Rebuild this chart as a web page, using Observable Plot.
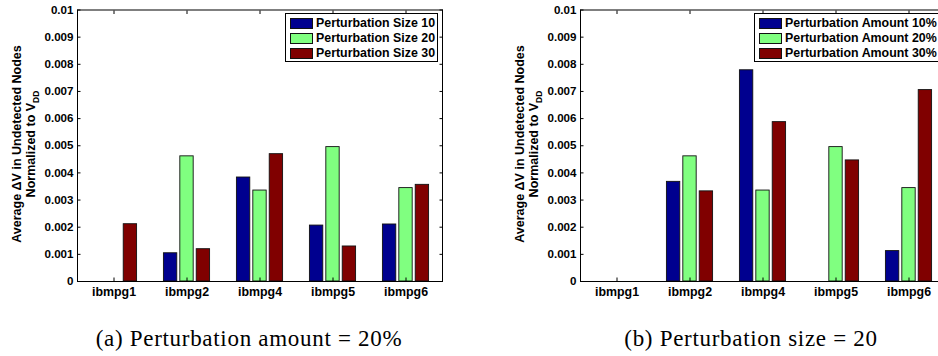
<!DOCTYPE html>
<html>
<head>
<meta charset="utf-8">
<script src="https://cdn.jsdelivr.net/npm/d3@7"></script>
<script src="https://cdn.jsdelivr.net/npm/@observablehq/plot@0.6"></script>
<style>
  html, body { margin: 0; padding: 0; background: #fff; }
  body { width: 938px; height: 356px; overflow: hidden; position: relative;
         font-family: "Liberation Sans", Arial, sans-serif; }
  .panel { position: absolute; top: 0; height: 356px; }
  .legend { position: absolute; border: 1px solid #000; background: #fff; box-sizing: border-box;
            font-weight: bold; font-size: 12.4px; color: #000; }
  .legend .row { position: absolute; left: 0; height: 15px; white-space: nowrap; }
  .legend .sw { position: absolute; width: 23px; height: 11px; box-sizing: border-box; border: 1px solid #111; }
  .legend .lbl { position: absolute; line-height: 15px; }
  .caption { position: absolute; transform: translateX(-50%); white-space: nowrap;
             font-family: "Liberation Serif", "Times New Roman", serif; font-size: 23px;
             letter-spacing: 0.7px; line-height: 23px; color: #000; }
</style>
</head>
<body>
<script>
// ---- data ----
const categories = ["ibmpg1", "ibmpg2", "ibmpg4", "ibmpg5", "ibmpg6"];

const sizeSeries = ["Perturbation Size 10", "Perturbation Size 20", "Perturbation Size 30"];
const size10 = [0, 0.00104, 0.00383, 0.00206, 0.00210];
const size20 = [0, 0.00461, 0.00335, 0.00495, 0.00344];
const size30 = [0.00211, 0.00119, 0.00469, 0.00129, 0.00356];

const amountSeries = ["Perturbation Amount 10%", "Perturbation Amount 20%", "Perturbation Amount 30%"];
const amount10 = [0, 0.00367, 0.00778, 0, 0.00112];
const amount20 = [0, 0.00461, 0.00335, 0.00495, 0.00344];
const amount30 = [0, 0.00332, 0.00587, 0.00446, 0.00705];

const seriesColors = ["#00008f", "#80ff80", "#800000"];
const yTicks = [0, 0.001, 0.002, 0.003, 0.004, 0.005, 0.006, 0.007, 0.008, 0.009, 0.01];

const yLabelLine1 = "Average \u0394V in Undetected Nodes";
const yLabelLine2 = "Normalized to V";
const yLabelSub = "DD";

const captionA = "(a) Perturbation amount = 20%";
const captionB = "(b) Perturbation size = 20";

// ---- layout ----
const groupOffset = 0.2247;
const barHalf = 0.0915;

function tidy(series, lists) {
  const rows = [];
  categories.forEach((c, i) => {
    series.forEach((s, k) => rows.push({cat: c, ci: i + 1, si: k, series: s, value: lists[k][i]}));
  });
  return rows;
}

function makePanel({left, width, marginLeft, marginRight, series, lists, legend, caption}) {
  const panel = document.createElement("div");
  panel.className = "panel";
  panel.style.left = left + "px";
  panel.style.width = width + "px";
  document.body.appendChild(panel);

  const rows = tidy(series, lists);
  const xt = categories.map((c, i) => i + 1);
  const svg = Plot.plot({
    width, height: 300,
    marginTop: 9.5, marginBottom: 19, marginLeft, marginRight,
    style: {background: "transparent", fontFamily: "'Liberation Sans', Arial, sans-serif", color: "#000", overflow: "visible"},
    x: {domain: [0.5, 5.5]},
    y: {domain: [0, 0.01]},
    color: {domain: series, range: seriesColors},
    marks: [
      Plot.rectY(rows, {
        x1: d => d.ci + (d.si - 1) * groupOffset - barHalf,
        x2: d => d.ci + (d.si - 1) * groupOffset + barHalf,
        y1: 0, y2: "value", fill: "series", stroke: "#111", strokeWidth: 0.9
      }),
      Plot.axisX({anchor: "bottom", ticks: xt, tickFormat: i => categories[i - 1], tickSize: -3.5, tickPadding: 9.5,
                  fontSize: 12.4, fontWeight: "bold", label: null}),
      Plot.axisX({anchor: "top", ticks: xt, tickFormat: () => "", tickSize: -3.5, label: null}),
      Plot.axisY({anchor: "left", ticks: yTicks, tickFormat: d3.format("~g"), tickSize: -3.5, tickPadding: 7.5,
                  fontSize: 11.6, fontWeight: "bold", label: null}),
      Plot.axisY({anchor: "right", ticks: yTicks, tickFormat: () => "", tickSize: -3.5, label: null}),
      Plot.frame({stroke: "#000", strokeWidth: 1})
    ]
  });
  svg.style.position = "absolute";
  svg.style.left = "0px";
  svg.style.top = "0px";
  panel.appendChild(svg);

  // y-axis label (two lines, rotated, with subscript)
  const cy = 144;
  const g = d3.select(svg).append("g")
    .attr("font-family", "'Liberation Sans', Arial, sans-serif")
    .attr("font-weight", "bold").attr("font-size", 12.5).attr("fill", "#000")
    .attr("text-anchor", "middle");
  g.append("text").attr("transform", `translate(${marginLeft - 56.5},${cy}) rotate(-90)`).text(yLabelLine1);
  const t2 = g.append("text").attr("transform", `translate(${marginLeft - 42},${cy}) rotate(-90)`);
  t2.append("tspan").text(yLabelLine2);
  t2.append("tspan").attr("font-size", 8.5).attr("dy", 3.5).text(yLabelSub);

  // legend
  const lg = document.createElement("div");
  lg.className = "legend";
  lg.style.left = legend.left + "px";
  lg.style.top = legend.top + "px";
  lg.style.width = legend.width + "px";
  lg.style.height = legend.height + "px";
  series.forEach((s, k) => {
    const row = document.createElement("div");
    row.className = "row";
    row.style.top = (3 + k * 15) + "px";
    const sw = document.createElement("div");
    sw.className = "sw";
    sw.style.left = "4px"; sw.style.top = "1.5px";
    sw.style.background = seriesColors[k];
    const lbl = document.createElement("div");
    lbl.className = "lbl";
    lbl.style.left = "30px"; lbl.style.top = "-1px";
    lbl.textContent = s;
    row.appendChild(sw); row.appendChild(lbl);
    lg.appendChild(row);
  });
  panel.appendChild(lg);

  // caption
  const cap = document.createElement("div");
  cap.className = "caption";
  cap.style.left = caption.cx + "px";
  cap.style.top = "327px";
  cap.textContent = caption.text;
  panel.appendChild(cap);
}

makePanel({
  left: 0, width: 469, marginLeft: 77, marginRight: 27,
  series: sizeSeries, lists: [size10, size20, size30],
  legend: {left: 285, top: 12.5, width: 153, height: 49},
  caption: {cx: 249, text: captionA}
});

makePanel({
  left: 469, width: 476, marginLeft: 111, marginRight: 0,
  series: amountSeries, lists: [amount10, amount20, amount30],
  legend: {left: 285, top: 12.5, width: 187, height: 49},
  caption: {cx: 282, text: captionB}
});
</script>
</body>
</html>
